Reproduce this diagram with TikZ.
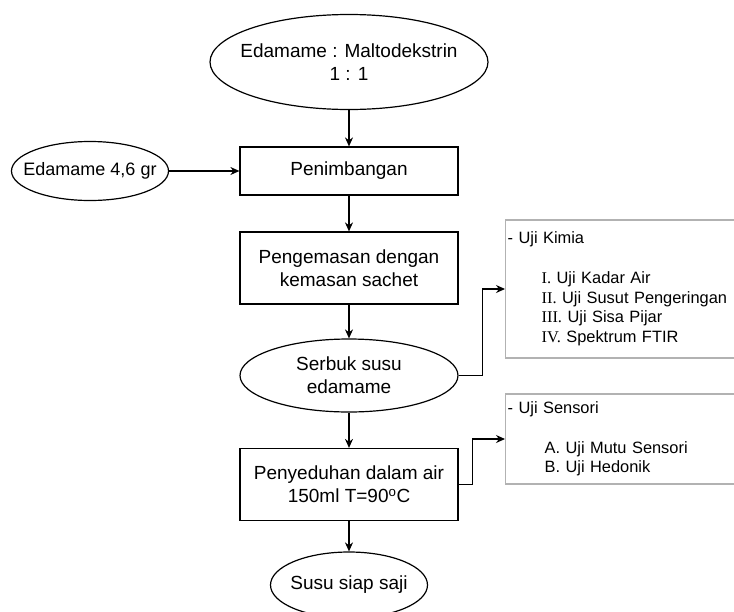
\documentclass[tikz,border=0pt]{standalone}
\usepackage{fontspec}
\setmainfont{Liberation Sans}
\newfontfamily\romanfont{Liberation Serif}
\usetikzlibrary{arrows.meta,positioning,shapes.geometric}
\definecolor{notegray}{RGB}{178,178,178}

\begin{document}
\begin{tikzpicture}[x=1pt,y=-1pt,
  every node/.style={font=\fontsize{19}{23}\selectfont},
  stepbox/.style={draw,line width=1.2pt,minimum width=218pt,inner sep=0pt,align=center},
  termnode/.style={draw,ellipse,line width=1.2pt,inner xsep=-11pt,inner ysep=0pt,align=center},
  notebox/.style={draw=notegray,line width=1.2pt,anchor=west,align=left,
    text width=262pt,inner sep=2pt,font=\fontsize{16.4}{19.8}\selectfont},
  flow/.style={-{Stealth[length=9pt,width=8pt]},line width=1.2pt}]
  \clip (0,0) rectangle (734,611);

  % Main process chain
  \node[termnode,minimum width=278pt,minimum height=95pt] (ratio) at (349,62)
    {Edamame : Maltodekstrin\\1 : 1};
  \node[stepbox,minimum height=48pt] (weigh) at (349,171) {Penimbangan};
  \node[termnode,font=\fontsize{18}{21}\selectfont,inner xsep=-13pt,minimum width=157pt,
    minimum height=59pt] (bean) at (90,171) {Edamame 4,6 gr};
  \node[stepbox,minimum height=72pt] (pack) at (349,268)
    {Pengemasan dengan\\kemasan sachet};
  \node[termnode,minimum width=218pt,minimum height=73pt] (powder) at (349,375.5)
    {Serbuk susu\\edamame};
  \node[stepbox,minimum height=72pt] (brew) at (349,484.5)
    {Penyeduhan dalam air\\150ml T=90\textsuperscript{o}C};
  \node[termnode,minimum width=157pt,minimum height=66pt] (ready) at (349,585)
    {Susu siap saji};

  % Test notes
  \node[notebox,minimum height=138pt] (chem) at (505,289)
    {- Uji Kimia\\[19.8pt]
     \hspace*{34pt}{\romanfont I.} Uji Kadar Air\\
     \hspace*{34pt}{\romanfont II.} Uji Susut Pengeringan\\
     \hspace*{34pt}{\romanfont III.} Uji Sisa Pijar\\
     \hspace*{34pt}{\romanfont IV.} Spektrum FTIR};
  \node[notebox,minimum height=90pt] (sensor) at (505,439)
    {- Uji Sensori\\[19.8pt]
     \hspace*{37pt}A. Uji Mutu Sensori\\
     \hspace*{37pt}B. Uji Hedonik};

  \draw[flow] (ratio) -- (weigh);
  \draw[flow] (bean) -- (weigh);
  \draw[flow] (weigh) -- (pack);
  \draw[flow] (pack) -- (powder);
  \draw[flow] (powder) -- (brew);
  \draw[flow] (brew) -- (ready);
  \draw[flow] (powder.east) -- ++(24,0) |- (chem.west);
  \draw[flow] (brew.east) -- ++(14,0) |- (sensor.west);
\end{tikzpicture}
\end{document}
